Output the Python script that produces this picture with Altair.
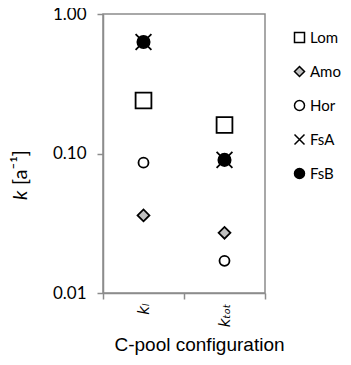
import altair as alt
import pandas as pd

series = ["Lom", "Amo", "Hor", "FsA", "FsB"]
configs = ["kₗ", "kₜₒₜ"]
k_l = [0.24, 0.036, 0.086, 0.63, 0.63]
k_tot = [0.16, 0.027, 0.017, 0.09, 0.09]
shapes = ["square", "diamond", "circle", "M-1,-1L1,1M-1,1L1,-1", "circle"]
fills = ["white", "#bfbfbf", "white", "black", "black"]
strokes = ["black", "black", "black", "black", "black"]
sizes = [250, 140, 100, 250, 150]
y_ticks = [1.0, 0.1, 0.01]

rows = []
for i, s in enumerate(series):
    rows.append({"config": configs[0], "series": s, "k": k_l[i]})
for i, s in enumerate(series):
    rows.append({"config": configs[1], "series": s, "k": k_tot[i]})
df = pd.DataFrame(rows)

grey = "#8c8c8c"
leg = alt.Legend(title=None, orient="none", legendX=189, legendY=16,
                 symbolSize=100, symbolStrokeWidth=1.5,
                 labelFont="Lato", labelFontSize=15, labelColor="black",
                 rowPadding=17, labelOffset=3)

size_rule = alt.when(alt.datum.series == series[0]).then(alt.value(sizes[0]))
for s, z in zip(series[1:4], sizes[1:4]):
    size_rule = size_rule.when(alt.datum.series == s).then(alt.value(z))
size_rule = size_rule.otherwise(alt.value(sizes[4]))

points = alt.Chart(df).mark_point(filled=True, strokeWidth=1.8, opacity=1).encode(
    x=alt.X("config:N", sort=configs,
            scale=alt.Scale(type="band", paddingInner=0, paddingOuter=0),
            axis=alt.Axis(labelAngle=270, labelFont="DejaVu Sans", labelFontStyle="italic",
                          labelFontSize=15, labelColor="black", labelPadding=4,
                          tickSize=6, tickBand="extent", tickColor=grey, tickWidth=1.5,
                          domainColor=grey, domainWidth=1.5,
                          title="C-pool configuration", titleFont="Liberation Sans",
                          titleFontSize=19, titleFontWeight="normal", titleColor="black",
                          titleX=96, titleY=57, titleBaseline="alphabetic")),
    y=alt.Y("k:Q", scale=alt.Scale(type="log", domain=[0.01, 1]),
            axis=alt.Axis(values=y_ticks, format=".2f", labelFont="Lato", labelFontSize=17,
                          labelColor="black", labelPadding=11, tickSize=6, tickColor=grey,
                          tickWidth=1.5, domainColor=grey, domainWidth=1.5, grid=False,
                          title=None)),
    shape=alt.Shape("series:N", sort=series, scale=alt.Scale(domain=series, range=shapes), legend=leg),
    fill=alt.Fill("series:N", sort=series, scale=alt.Scale(domain=series, range=fills), legend=leg),
    stroke=alt.Stroke("series:N", sort=series, scale=alt.Scale(domain=series, range=strokes), legend=leg),
    size=size_rule,
)

ytitle_k = alt.Chart(pd.DataFrame({"t": ["k"]})).mark_text(
    angle=270, align="left", baseline="alphabetic", font="Lato", fontSize=20,
    fontStyle="italic", color="black").encode(text="t:N", x=alt.value(-76), y=alt.value(186))
ytitle_rest = alt.Chart(pd.DataFrame({"t": ["[a⁻¹]"]})).mark_text(
    angle=270, align="left", baseline="alphabetic", font="Lato", fontSize=20,
    color="black").encode(text="t:N", x=alt.value(-76), y=alt.value(171))

chart = alt.layer(points, ytitle_k, ytitle_rest).properties(
    width=162, height=279,
    autosize=alt.AutoSizeParams(type="none"),
    padding={"left": 95, "top": 6, "right": 78, "bottom": 72},
).configure_view(stroke=grey, strokeWidth=1.5)

chart.save("out.html", embed_options={"renderer": "svg", "actions": False})
